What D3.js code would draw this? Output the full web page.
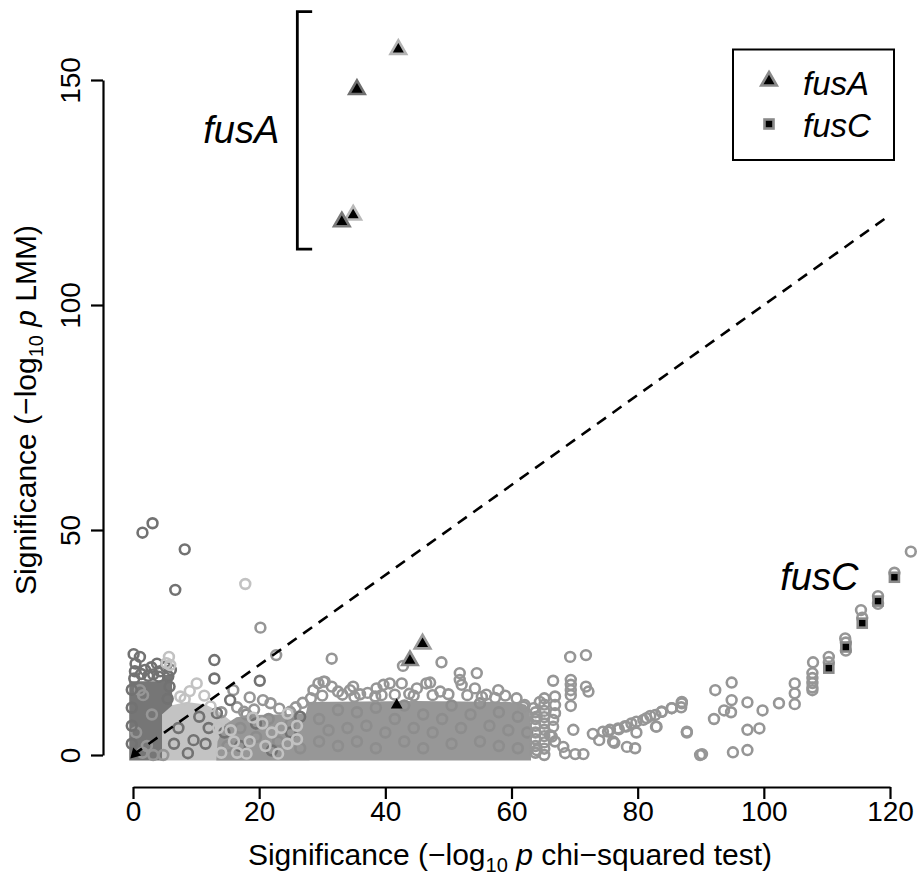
<!DOCTYPE html>
<html>
<head>
<meta charset="utf-8">
<script src="https://cdn.jsdelivr.net/npm/d3@7"></script>
<style>
  body { margin: 0; background: #fff; }
  svg { display: block; }
  text { font-family: "Liberation Sans", Arial, Helvetica, sans-serif; fill: #000; }
</style>
</head>
<body>
<svg id="chart" width="923" height="879"></svg>
<script>
// ---- axes ----
const xTicks = [0, 20, 40, 60, 80, 100, 120];
const yTicks = [0, 50, 100, 150];

// identity reference line (LMM = chi-squared)
const refLine = [[0, 0], [120, 120]];

// bracket grouping the strongest fusA variants
const fusABracket = [[28.4, 165.2], [26.05, 165.2], [26.05, 112.4], [28.4, 112.4]];

// footprints where thousands of overlapping markers saturate to solid grey
const cloudDark = [[-0.6, -1.2], [-0.6, 16.4], [4.6, 16.4], [4.7, 17.8], [6.2, 17.8], [6.2, 11], [4.6, 9], [4.6, -1.2]];
const cloudLight = [[4.6, -1.2], [4.6, 9], [6, 11], [8.5, 11.8], [11.5, 11.2], [13.5, 9.8], [15.5, 7.6], [18, 6], [21, 4.5], [24, 3.2], [27, 2.4], [28, -1.2]];
const cloudMid = [[13.2, -1.2], [13.4, 3], [14.6, 6.8], [16.4, 8.4], [19, 8.9], [23, 9], [27.4, 9.2], [27.8, 11.8], [45, 12], [59.8, 11.8], [62.2, 11.2], [62.9, 10], [63.1, -1.2]];

// variants, lineage group 1 (dark)
const darkPts = [
  [0.1, 22.4], [1.1, 21.8], [0.4, 20.3], [1.9, 18.9], [3.8, 20.3], [4.3, 18.6], [2.9, 19.5], [0.3, 18.6],
  [1.3, 18], [3.2, 17.9], [5.2, 19.6], [6, 18.9], [2.4, 17.6], [4.1, 17.4], [0.2, 17], [5.6, 17.5],
  [-0.2, 2.5], [-0.2, 6.5], [-0.2, 10.5], [-0.2, 14.5], [5.5, 12.5], [5.8, 15.2],
  [1.5, 49.4], [3.1, 51.5], [8.2, 45.7], [6.7, 36.7],
  [12.9, 21.1], [12.9, 17.0], [20.1, 16.5],
  [9.6, 3.3], [8.7, 0.4], [13.3, 9.3], [15.4, 12.2], [7.2, 6], [10.5, 8.5], [11.5, 2.5], [14.5, 5],
  [17, 2], [19.5, 7], [22, 1], [25, 5], [26.5, 8.5], [12, 6], [6.5, 2.5]
];

// variants, lineage group 2 (medium)
const midPts = [
  [20.2, 28.3], [22.7, 22.2], [31.5, 21.4], [15.9, 14.4], [18.5, 12.8], [20.6, 12.2], [21.8, 11.5], [26.9, 11.6],
  [24.9, 9.6], [16.5, 10.6], [14, 9.5], [23.2, 10.3], [19.2, 10.1], [25.8, 10.6], [17.6, 9.6],
  [1.1, 14.4], [1.6, 13.3], [3, 9], [0.5, 5], [2.2, 2], [3.2, 0], [4.8, 0], [1.5, 0.5],
  [28.6, 14.4], [29.4, 15.9], [30.4, 16.3], [31.5, 15.2], [32.5, 14.1], [34.4, 14.4], [34.9, 15.2], [38.6, 14.8],
  [39.7, 15.6], [40.7, 15.9], [38.4, 13], [39.4, 13.3], [42.6, 15.9], [45, 14.8], [46.5, 15.9], [47.1, 16.1],
  [48.7, 14.1], [51.8, 18.2], [51.8, 16.7], [52.1, 15.6], [54.5, 18.2], [54.2, 14.8], [57.9, 14.4], [48.9, 20.6],
  [42.8, 19.8], [30.2, 16.3], [36, 13.5], [37.2, 13.8], [41.5, 13.4], [43.8, 13.6], [50, 13.5], [53, 13.3],
  [56, 13.4], [59, 13.2], [60.8, 12.6], [61.9, 10.7], [63.5, 10.4], [64, 8.5], [62.1, 11.1], [33.2, 13.4],
  [30, 13.2], [44.5, 13.2], [47.5, 13.3], [28.2, 12.6], [35.1, 12.9], [55.3, 12.9], [57.4, 12.7],
  [63.8, 0.5], [63.8, 2], [63.8, 3.5], [63.8, 5], [63.8, 6.5], [63.8, 8], [63.8, 9.5],
  [65.2, 0], [65.2, 1.4], [65.2, 2.8], [65.2, 4.2], [65.2, 5.6], [65.2, 7], [65.2, 8.4], [65.2, 9.8], [65.2, 11.2], [65.2, 12.6],
  [64.5, 11.8], [66.9, 13], [66.9, 11.1], [66.9, 9.3], [66.6, 7.8], [66.6, 6.3], [66.1, 4.4], [66.9, 3],
  [68.2, 1.8], [68.5, 0.4], [70.1, 0.2], [71.4, 0.2], [64, 1.1], [66.4, 4.1],
  [69.4, 16.7], [69.4, 15.6], [69.4, 14.4], [69.4, 13.3], [69.4, 10.9], [66.6, 16.5], [71.8, 15.2], [72.2, 14.1],
  [69.3, 21.8], [71.8, 22.2], [69.8, 5.6],
  [72.9, 4.7], [73.9, 3.3], [75.3, 5.2], [76.3, 2.7], [77, 5.7], [78.2, 6.3], [79, 7], [79.8, 7.4], [80.9, 7.8],
  [82, 8.7], [82.8, 8.9], [83.8, 9.6], [85.4, 10.4], [87, 11.5], [86.9, 10.6], [79.8, 5], [82.9, 6.3], [78.3, 1.8],
  [79.6, 1.5], [87.8, 5.2], [89.9, 0], [74.5, 5.2], [75.6, 5.6], [76.9, 5.9], [78, 6.4], [81.4, 8.2], [76.1, 3],
  [123.3, 45.2], [115.4, 32.2], [112.9, 25.9], [110.3, 21.8], [107.8, 20.6], [107.7, 18.2], [107.7, 17.1], [107.7, 16],
  [107.7, 15], [107.7, 14.4], [104.9, 15.9], [104.9, 13.7], [104.9, 11.3], [102.4, 11.5], [99.8, 9.9], [99.3, 5.9],
  [97.4, 11.7], [97.4, 5.6], [97.4, 1.1], [95.1, 0.6], [94.9, 16.1], [94.9, 12.2], [94.8, 9.5], [93.7, 9.9],
  [92.3, 14.4], [92.1, 8], [90.2, 0.2], [87.8, 5], [87, 11.8], [85.4, 10.4], [83.8, 9.6], [83, 6.3],
  [110.3, 20.6], [113, 25], [115.6, 30.5], [118.1, 35.3], [118.1, 33.6], [120.7, 40.5], [113, 23.2]
];

// medium-group markers inside the saturated mass (slightly darker stroke shows through)
const midInner = [
  [29.5, 3], [29.5, 8], [31, 5.5], [32.5, 2], [32.5, 10], [34, 6], [35.5, 3], [35.5, 9.5], [37, 6.5], [38.5, 1.5],
  [38.5, 10.5], [40, 5], [41.5, 8], [43, 3], [43, 11], [44.5, 6], [46, 1.5], [46, 9], [47.5, 5], [49, 8],
  [50.5, 2.5], [50.5, 11], [52, 6], [53.5, 9], [55, 3], [55, 11.5], [56.5, 6.5], [58, 9.5], [58, 2], [59.5, 5.5],
  [61, 8.5], [61, 1.5], [62.5, 5], [15, 2], [17, 6], [19.5, 4], [21.5, 8], [23, 3], [25, 7], [26.5, 1.5], [18, 9]
];

// variants, lineage group 3 (light)
const lightPts = [
  [17.8, 38.0], [5.3, 20.4], [5.9, 20], [5.7, 21.8], [10.1, 15.9], [11.3, 13.2], [9, 14.2], [7.5, 13],
  [13.5, 6], [16, 3], [19, 8.3], [21, 2], [23.5, 6], [26, 3.5], [18, 0.3], [14, 0.5], [23, 0.3], [24.5, 9.2],
  [15.5, 5.5], [18.5, 3], [20.5, 7], [22, 5], [24.5, 2.5], [26, 6.5], [16.5, 0.5], [12.3, 10.8], [8.2, 12.4]
];

// highlighted genes
const fusA = [[42.06, 156.8], [35.5, 147.9], [34.9, 120.0], [33.1, 118.5], [45.9, 24.7], [43.9, 21.0]];
const fusAMinor = [[41.8, 11.1]];
const fusAOrigin = [[0.3, 0.25]];
const fusC = [[120.7, 39.5], [118.1, 34.2], [115.6, 29.3], [113.0, 24.0], [110.3, 19.3]];

// outline shades of the fusA triangles
const fusAEdge = ["#b4b4b4", "#6f6f6f", "#b9b9b9", "#7a7a7a", "#9a9a9a", "#8c8c8c"];

const svg = d3.select("#chart");
const x = d3.scaleLinear().domain([0, 120]).range([133, 890]);
const y = d3.scaleLinear().domain([0, 150]).range([755, 80]);

const poly = d3.line().x(d => x(d[0])).y(d => y(d[1]));

// saturated clouds
[[cloudLight, "#c3c3c3"], [cloudMid, "#979797"], [cloudDark, "#767676"]].forEach(([pts, col]) => {
  svg.append("path").attr("d", poly(pts) + "Z").attr("fill", col);
});

const R = 4.9, SW = 2.6;
function rings(data, col) {
  svg.append("g").selectAll("circle").data(data).join("circle")
    .attr("cx", d => x(d[0])).attr("cy", d => y(d[1])).attr("r", R)
    .attr("fill", "none").attr("stroke", col).attr("stroke-width", SW);
}
rings(midInner, "#8d8d8d");
rings(midPts, "#969696");
rings(darkPts, "#727272");
rings(lightPts, "#c2c2c2");

// dashed identity line
svg.append("path").attr("d", poly(refLine))
  .attr("fill", "none").attr("stroke", "#000").attr("stroke-width", 2.6)
  .attr("stroke-dasharray", "11,8");

// fusA triangles
const tri = d3.symbol().type(d3.symbolTriangle);
svg.append("g").selectAll("path").data(fusA).join("path")
  .attr("d", tri.size(105)())
  .attr("transform", d => `translate(${x(d[0])},${y(d[1])})`)
  .attr("fill", "#000").attr("stroke", (d, i) => fusAEdge[i]).attr("stroke-width", 2.6);
svg.append("g").selectAll("path").data(fusAMinor).join("path")
  .attr("d", d3.symbol().type(d3.symbolTriangle).size(60)())
  .attr("transform", d => `translate(${x(d[0])},${y(d[1])})`)
  .attr("fill", "#000");
svg.append("g").selectAll("path").data(fusAOrigin).join("path")
  .attr("d", d3.symbol().type(d3.symbolTriangle).size(55)())
  .attr("transform", d => `translate(${x(d[0])},${y(d[1])}) rotate(-135)`)
  .attr("fill", "#000");

// fusC squares
const SQ = 9;
svg.append("g").selectAll("rect").data(fusC).join("rect")
  .attr("x", d => x(d[0]) - SQ / 2).attr("y", d => y(d[1]) - SQ / 2)
  .attr("width", SQ).attr("height", SQ)
  .attr("fill", "#000").attr("stroke", "#8a8a8a").attr("stroke-width", 2.6);

// bracket + gene labels
svg.append("path").attr("d", poly(fusABracket))
  .attr("fill", "none").attr("stroke", "#000").attr("stroke-width", 2.8);
svg.append("text").attr("x", x(23.2)).attr("y", y(135.9))
  .attr("text-anchor", "end").attr("font-size", 38).attr("font-style", "italic").text("fusA");
svg.append("text").attr("x", x(102.6)).attr("y", y(36.7))
  .attr("font-size", 38).attr("font-style", "italic").text("fusC");

// x axis
const gx = svg.append("g").attr("transform", "translate(0,787)")
  .call(d3.axisBottom(x).tickValues(xTicks).tickSize(12).tickSizeOuter(0).tickFormat(d3.format("d")));
gx.selectAll("path.domain, line").attr("stroke", "#000").attr("stroke-width", 2.2);
gx.selectAll("text").attr("y", 34).attr("dy", null).attr("font-size", 28)
  .attr("font-family", "Liberation Sans, Arial, sans-serif").attr("fill", "#000");

// y axis
const gy = svg.append("g").attr("transform", "translate(103,0)")
  .call(d3.axisLeft(y).tickValues(yTicks).tickSize(12).tickSizeOuter(0).tickFormat(d3.format("d")));
gy.selectAll("path.domain, line").attr("stroke", "#000").attr("stroke-width", 2.2);
gy.selectAll("text").attr("x", null).attr("y", null).attr("dy", null)
  .attr("text-anchor", "middle").attr("transform", "translate(-23,0) rotate(-90)")
  .attr("font-size", 28).attr("font-family", "Liberation Sans, Arial, sans-serif").attr("fill", "#000");

// axis titles
function title(sel, tail) {
  sel.append("tspan").text("Significance (\u2212log");
  sel.append("tspan").attr("font-size", 20).attr("dy", 7).text("10");
  sel.append("tspan").attr("dy", -7).text(" ");
  sel.append("tspan").attr("font-style", "italic").text("p");
  sel.append("tspan").text(tail);
}
const xt = svg.append("text").attr("x", 510).attr("y", 865).attr("text-anchor", "middle").attr("font-size", 30);
title(xt, " chi\u2212squared test)");
const yt = svg.append("text").attr("transform", "translate(36,410) rotate(-90)")
  .attr("text-anchor", "middle").attr("font-size", 30);
title(yt, " LMM)");

// legend
const lg = svg.append("g");
lg.append("rect").attr("x", 733).attr("y", 49.5).attr("width", 161).attr("height", 110.5)
  .attr("fill", "#fff").attr("stroke", "#000").attr("stroke-width", 2);
lg.append("path").attr("d", tri.size(105)()).attr("transform", "translate(769,81)")
  .attr("fill", "#000").attr("stroke", "#8a8a8a").attr("stroke-width", 2.6);
lg.append("rect").attr("x", 769 - SQ / 2).attr("y", 124 - SQ / 2).attr("width", SQ).attr("height", SQ)
  .attr("fill", "#000").attr("stroke", "#8a8a8a").attr("stroke-width", 2.6);
lg.append("text").attr("x", 803).attr("y", 95).attr("font-size", 33).attr("font-style", "italic").text("fusA");
lg.append("text").attr("x", 803).attr("y", 137).attr("font-size", 33).attr("font-style", "italic").text("fusC");
</script>
</body>
</html>
